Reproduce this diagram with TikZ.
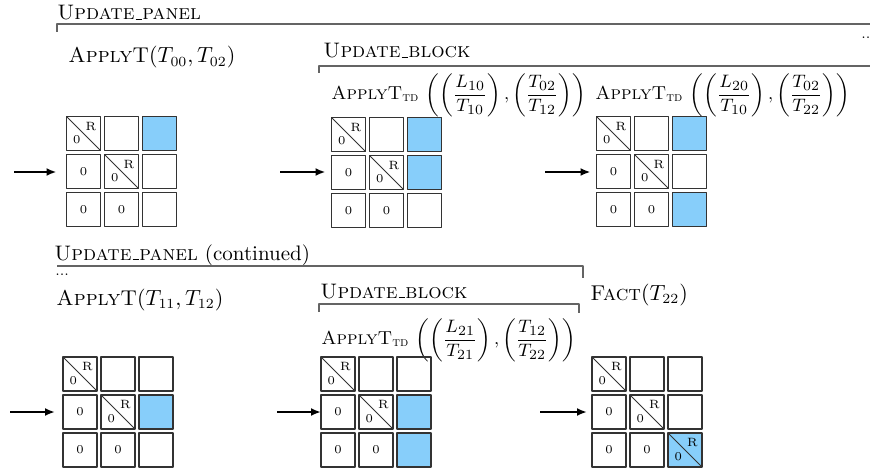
\documentclass[tikz,border=0pt]{standalone}
\usepackage{amsmath}
\usetikzlibrary{arrows.meta}

\newcommand\opname[1]{\textsc{#1}}
\newcommand\us{\leavevmode\kern.06em\vbox{\hrule height .6pt width .3em}\kern.02em}
\newcommand\applytd{\textsc{ApplyT}$_{\textsc{td}}$}
\newcommand\cellfont{\fontsize{6}{7}\selectfont}

% 3x3 tile grid: name, centre of the top-left tile, per-tile styles
\newcommand\tilegrid[3]{%
  \begin{scope}[shift={#2}, #3]
    \foreach \r in {0,1,2}
      \foreach \c in {0,1,2}
        \node[cell, c\r\c] (#1-\r\c) at (\c*38, \r*38) {\ifnum\r>\c\relax 0\fi};
  \end{scope}}

\begin{document}
\begin{tikzpicture}[x=0.5pt, y=-0.5pt, line join=round,
    cell/.style={draw=black!80, line width=0.6pt, minimum size=17pt,
      inner sep=0pt, outer sep=0pt, font=\cellfont},
    diagcell/.style={path picture={
        \draw[line width=0.5pt] (path picture bounding box.north west)
          -- (path picture bounding box.south east);
        \node[font=\cellfont] at ([shift={(-4.8pt,-4.9pt)}]path picture bounding box.north east) {R};
        \node[font=\cellfont] at ([shift={(5.1pt,5.3pt)}]path picture bounding box.south west) {0};
      }},
    c00/.style={diagcell}, c01/.style={}, c02/.style={},
    c10/.style={}, c11/.style={diagcell}, c12/.style={},
    c20/.style={}, c21/.style={}, c22/.style={},
    busy/.style={fill=tileblue},
    bracket/.style={draw=rulegray, line width=0.6pt},
    flow/.style={-{Latex[length=5pt,width=4pt]}, line width=1.1pt},
    opname/.style={anchor=base west, inner sep=0pt, font=\fontsize{10.5}{12}\selectfont},
    opcall/.style={anchor=base west, inner sep=0pt, font=\fontsize{10.7}{12}\selectfont},
    opupdate/.style={anchor=west, inner sep=0pt, font=\fontsize{9.4}{11}\selectfont},
    ellip/.style={anchor=base west, inner sep=0pt, font=\scriptsize}]
  \definecolor{tileblue}{RGB}{135,206,250}
  \definecolor{rulegray}{RGB}{100,100,100}

  \useasboundingbox (0,0) rectangle (870,470);
  \clip (0,0) rectangle (870,470);

  % first row
  \node[opname] (panel) at (57,20) {\opname{Update\us panel}};
  \draw[bracket] (57,32) -- (57,24) -- (890,24);
  \node[ellip] (more) at (861,39) {...};

  \node[opcall] (apply1) at (68,63) {\opname{ApplyT}$(T_{00},T_{02})$};
  \tilegrid{g1}{(83.5,133.5)}{c02/.style={busy}}

  \node[opname] (block1) at (323,58) {\opname{Update\us block}};
  \draw[bracket] (319,73) -- (319,66) -- (890,66);

  \node[opupdate] (td1) at (331,95)
    {\applytd\ $\displaystyle\left(\left(\frac{L_{10}}{T_{10}}\right),\left(\frac{T_{02}}{T_{12}}\right)\right)$};
  \tilegrid{g2}{(348.5,134.5)}{c02/.style={busy}, c12/.style={busy}}

  \node[opupdate] (td2) at (595,95)
    {\applytd\ $\displaystyle\left(\left(\frac{L_{20}}{T_{10}}\right),\left(\frac{T_{02}}{T_{22}}\right)\right)$};
  \tilegrid{g3}{(613.5,133.5)}{c02/.style={busy}, c22/.style={busy}}

  \coordinate (in1) at (14,172);
  \coordinate (in2) at (280,172);
  \coordinate (in3) at (545,172);
  \draw[flow, shorten >=5pt] (in1) -- (in1 -| g1-10.west);
  \draw[flow, shorten >=3pt] (in2) -- (in2 -| g2-10.west);
  \draw[flow, shorten >=3pt] (in3) -- (in3 -| g3-10.west);

  % second row
  \node[opname] (panel2) at (54,260) {\opname{Update\us panel} (continued)};
  \draw[bracket] (57,266) -- (583,266) -- (583,278);
  \node[ellip] (dots) at (55,275) {...};

  \node[opcall] (apply2) at (56,305) {\opname{ApplyT}$(T_{11},T_{12})$};
  \tilegrid{g4}{(80,374)}{c12/.style={busy}}

  \node[opname] (block2) at (320,298) {\opname{Update\us block}};
  \draw[bracket] (319,312) -- (319,304) -- (579,304) -- (579,313);

  \node[opupdate] (td3) at (321,340)
    {\applytd\ $\displaystyle\left(\left(\frac{L_{21}}{T_{21}}\right),\left(\frac{T_{12}}{T_{22}}\right)\right)$};
  \tilegrid{g5}{(338,374)}{c12/.style={busy}, c22/.style={busy}}

  \node[opcall] (fact) at (590,300) {\opname{Fact}$(T_{22})$};
  \tilegrid{g6}{(609,374)}{c22/.style={diagcell, busy}}

  \coordinate (in4) at (10,412);
  \coordinate (in5) at (277,412);
  \coordinate (in6) at (540,412);
  \draw[flow, shorten >=4pt] (in4) -- (in4 -| g4-10.west);
  \draw[flow] (in5) -- (in5 -| g5-10.west);
  \draw[flow, shorten >=2.5pt] (in6) -- (in6 -| g6-10.west);
\end{tikzpicture}
\end{document}
